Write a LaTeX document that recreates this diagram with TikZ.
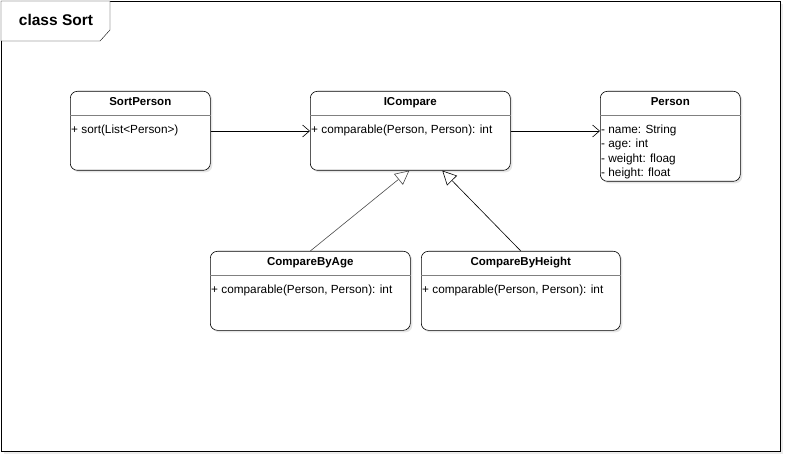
\documentclass[tikz,border=0pt]{standalone}
\usepackage{fontspec}
\setmainfont{Liberation Sans}
\usetikzlibrary{arrows.meta,shadows,positioning}

\begin{document}
\begin{tikzpicture}[x=1pt,y=-1pt]
	\tikzset{
	  ClassStyle/.style = { draw, semithick, rounded corners=7pt, fill=white,
	                        drop shadow={opacity=0.2, shadow xshift=2pt, shadow yshift=-2pt},
	                        inner sep=0pt, anchor=north west },
	  TitleStyle/.style = { font = \fontsize{11.5}{13}\selectfont\bfseries, inner sep=0pt },
	  MemberStyle/.style = { font = \fontsize{11.8}{14}\selectfont, inner sep=1pt, anchor=west,
	                         text height=9pt, text depth=3pt },
	  SepStyle/.style = { draw=gray, thin },
	  UseStyle/.style = { semithick, -{Straight Barb[length=7pt,width=12pt]} },
	  ImplStyle/.style = { semithick, -{Triangle[open,length=14pt,width=14pt,fill=white]} } }
	\useasboundingbox (0,0) rectangle (792,462);
	% frame
	\node[draw, fill=white, drop shadow={opacity=0.15, shadow xshift=3pt, shadow yshift=-3pt},
	      minimum width=779pt, minimum height=450pt, inner sep=0pt, anchor=north west] (frame) at (1,1) {};
	\draw[fill=white] (frame.north west) -- ++(109,0) coordinate (tabNE) -- ++(0,29)
	      -- ++(-10,11) coordinate (tabS) -- (frame.north west |- tabS) -- cycle;
	\node[font=\fontsize{15.5}{18}\selectfont\bfseries] (tabText) at (56,20) {class Sort};
	% classes
	\node[ClassStyle, minimum width=140pt, minimum height=79pt] (SortPerson) at (70,91) {};
	\node[TitleStyle, below=6pt of SortPerson.north] (SortPersonTitle) {SortPerson};
	\draw[SepStyle] ([yshift=-24pt]SortPerson.north west) -- ([yshift=-24pt]SortPerson.north east);
	\node[MemberStyle] (sortMethod) at ([yshift=-40pt]SortPerson.north west) {+ sort(List<Person>)};

	\node[ClassStyle, minimum width=200pt, minimum height=79pt] (ICompare) at (310,91) {};
	\node[TitleStyle, below=6pt of ICompare.north] (ICompareTitle) {ICompare};
	\draw[SepStyle] ([yshift=-24pt]ICompare.north west) -- ([yshift=-24pt]ICompare.north east);
	\node[MemberStyle] (compareMethod) at ([yshift=-40pt]ICompare.north west) {+ comparable(Person, Person): int};

	\node[ClassStyle, minimum width=140pt, minimum height=90pt] (Person) at (600,91) {};
	\node[TitleStyle, below=6pt of Person.north] (PersonTitle) {Person};
	\draw[SepStyle] ([yshift=-24pt]Person.north west) -- ([yshift=-24pt]Person.north east);
	\node[MemberStyle] (nameAttr) at ([yshift=-39.5pt]Person.north west) {- name: String};
	\node[MemberStyle, below=0pt of nameAttr.south west, anchor=north west] (ageAttr) {- age: int};
	\node[MemberStyle, below=0pt of ageAttr.south west, anchor=north west] (weightAttr) {- weight: floag};
	\node[MemberStyle, below=0pt of weightAttr.south west, anchor=north west] (heightAttr) {- height: float};

	\node[ClassStyle, minimum width=200pt, minimum height=79pt] (CompareByAge) at (210,251) {};
	\node[TitleStyle, below=6pt of CompareByAge.north] (CompareByAgeTitle) {CompareByAge};
	\draw[SepStyle] ([yshift=-24pt]CompareByAge.north west) -- ([yshift=-24pt]CompareByAge.north east);
	\node[MemberStyle] (ageMethod) at ([yshift=-40pt]CompareByAge.north west) {+ comparable(Person, Person): int};

	\node[ClassStyle, minimum width=199pt, minimum height=79pt] (CompareByHeight) at (421,251) {};
	\node[TitleStyle, below=6pt of CompareByHeight.north] (CompareByHeightTitle) {CompareByHeight};
	\draw[SepStyle] ([yshift=-24pt]CompareByHeight.north west) -- ([yshift=-24pt]CompareByHeight.north east);
	\node[MemberStyle] (heightMethod) at ([yshift=-40pt]CompareByHeight.north west) {+ comparable(Person, Person): int};
	% connectors
	\draw[UseStyle] (SortPerson.east |- sortMethod) -- (ICompare.west |- compareMethod);
	\draw[UseStyle] (ICompare.east |- compareMethod) -- (Person.west |- compareMethod);
	\draw[ImplStyle, draw=black!70] (CompareByAge.north) -- ([xshift=-1pt]ICompare.south);
	\draw[ImplStyle] (CompareByHeight.north) -- ([xshift=32pt]ICompare.south);
\end{tikzpicture}
\end{document}
